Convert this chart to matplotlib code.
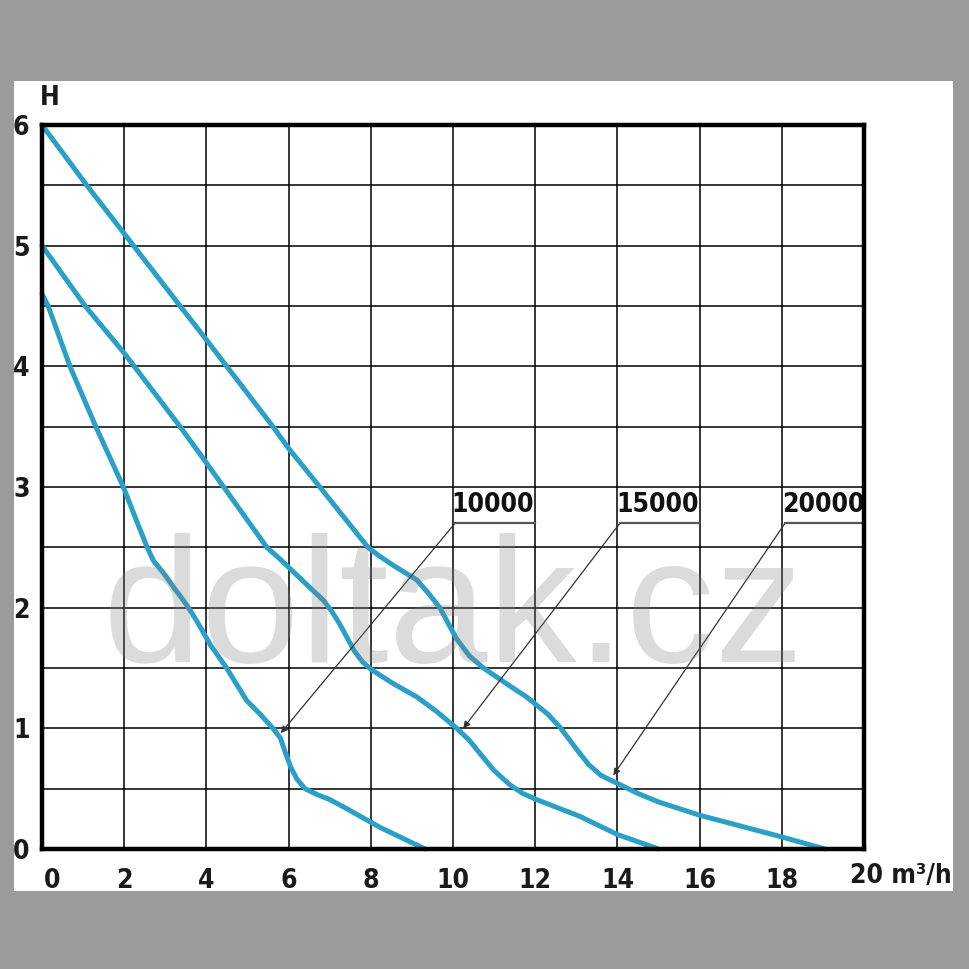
import matplotlib.pyplot as plt
from matplotlib.patches import Rectangle
from matplotlib.transforms import ScaledTranslation

# pump curves, flow Q (m3/h) vs head H (m)
q_10000 = [0, 0.15, 0.68, 1.31, 1.98, 2.3, 2.56, 2.71, 2.95, 3.2, 3.44, 3.64, 3.85, 4.1, 4.49, 4.98, 5.3, 5.62,
           5.8, 5.92, 6.05, 6.2, 6.4, 6.7, 7.0, 7.33, 8.22, 9.32]
h_10000 = [4.6, 4.5, 4.0, 3.5, 3.0, 2.72, 2.5, 2.39, 2.29, 2.17, 2.06, 1.96, 1.84, 1.69, 1.5, 1.23, 1.12, 1.0,
           0.92, 0.8, 0.68, 0.58, 0.5, 0.45, 0.41, 0.35, 0.18, 0.0]

q_15000 = [0, 1.05, 2.0, 3.36, 4.0, 5.47, 5.8, 6.2, 6.6, 6.85, 7.05, 7.25, 7.41, 7.6, 7.8, 8.0, 8.5, 9.12,
           9.6, 10.09, 10.4, 10.66, 11.0, 11.39, 11.7, 12.03, 13.09, 14.0, 15.0]
h_15000 = [5.0, 4.5, 4.11, 3.5, 3.2, 2.5, 2.4, 2.27, 2.14, 2.06, 1.97, 1.86, 1.76, 1.64, 1.55, 1.49, 1.38, 1.26,
           1.14, 1.0, 0.9, 0.79, 0.65, 0.53, 0.46, 0.41, 0.27, 0.12, 0.0]

q_20000 = [0, 1.09, 2.0, 3.36, 4.0, 5.62, 6.0, 6.76, 7.93, 8.2, 8.55, 9.12, 9.4, 9.68, 9.9, 10.09, 10.4, 10.74,
           11.3, 11.79, 12.3, 12.6, 13.0, 13.3, 13.6, 14.02, 14.5, 15.0, 16.0, 17.0, 18.0, 19.05]
h_20000 = [6.0, 5.5, 5.1, 4.5, 4.22, 3.5, 3.32, 3.0, 2.5, 2.43, 2.35, 2.23, 2.12, 2.0, 1.86, 1.74, 1.6, 1.5,
           1.37, 1.26, 1.12, 1.01, 0.83, 0.7, 0.61, 0.54, 0.46, 0.39, 0.28, 0.19, 0.1, 0.0]

labels = ["10000", "15000", "20000"]
label_pos = [(10.05, 2.70), (14.06, 2.70), (18.08, 2.70)]
arrow_tips = [(5.81, 0.96), (10.25, 1.0), (13.9, 0.61)]

x_ticks = list(range(0, 20, 2))
y_ticks = list(range(0, 7))

FONT = dict(family=['DejaVu Sans'], fontstretch='condensed', fontweight='bold')
BLUE = '#2a9fc8'

fig = plt.figure(figsize=(9.69, 9.69), dpi=100, facecolor='#9b9b9b')
fig.patches.append(Rectangle((14 / 969, 1 - 891 / 969), 939 / 969, 810 / 969,
                             transform=fig.transFigure, facecolor='white', edgecolor='none', zorder=-10))

ax = fig.add_axes([42 / 969, 1 - 849 / 969, 822 / 969, 724 / 969])
ax.set_xlim(0, 20)
ax.set_ylim(0, 6)

# grid every 2 on x, 0.5 on y
for x in range(2, 20, 2):
    ax.axvline(x, color='black', lw=1.1, zorder=1)
for k in range(1, 12):
    ax.axhline(k * 0.5, color='black', lw=1.1, zorder=1)

for sp in ax.spines.values():
    sp.set_linewidth(3.2)
    sp.set_zorder(5)

for q, h in [(q_10000, h_10000), (q_15000, h_15000), (q_20000, h_20000)]:
    ax.plot(q, h, color=BLUE, lw=3.6, solid_capstyle='round', solid_joinstyle='round',
            clip_on=False, zorder=3)

# leader lines with labels
for lab, (lx, ly), (tx, ty) in zip(labels, label_pos, arrow_tips):
    ax.annotate('', xy=(tx, ty), xytext=(lx, ly),
                arrowprops=dict(arrowstyle='-|>', lw=0.9, color='#333333',
                                mutation_scale=10, shrinkA=0, shrinkB=0), zorder=4)
    ax.plot([lx, lx + 1.95], [ly, ly], color='#555555', lw=1.6, zorder=4)
    ax.text(lx - 0.08, ly + 0.04, lab, ha='left', va='bottom', fontsize=19,
            color='#111111', zorder=4, **FONT)

ax.set_xticks(x_ticks)
ax.set_yticks(y_ticks)
ax.tick_params(length=0, labelsize=19, pad=14, colors='#1a1a1a')
ax.tick_params(axis='y', pad=9)
for t in ax.get_xticklabels() + ax.get_yticklabels():
    t.set_fontfamily(FONT['family'])
    t.set_fontstretch('condensed')
    t.set_fontweight('bold')
first = ax.get_xticklabels()[0]
first.set_transform(first.get_transform() + ScaledTranslation(0.10, 0, fig.dpi_scale_trans))

ax.text(19.66, -0.22, '20 m³/h', ha='left', va='center', fontsize=19,
        color='#1a1a1a', clip_on=False, **FONT)
ax.text(0.2, 6.22, 'H', ha='center', va='center', fontsize=19,
        color='#1a1a1a', clip_on=False, **FONT)

# watermark
fig.text(453 / 969, 1 - 662 / 969, 'doltak.cz', ha='center', va='baseline', fontsize=128,
         family=['Liberation Sans', 'DejaVu Sans'], color='#808080', alpha=0.28, zorder=10)

fig.savefig('out.png', dpi=100, facecolor=fig.get_facecolor())
